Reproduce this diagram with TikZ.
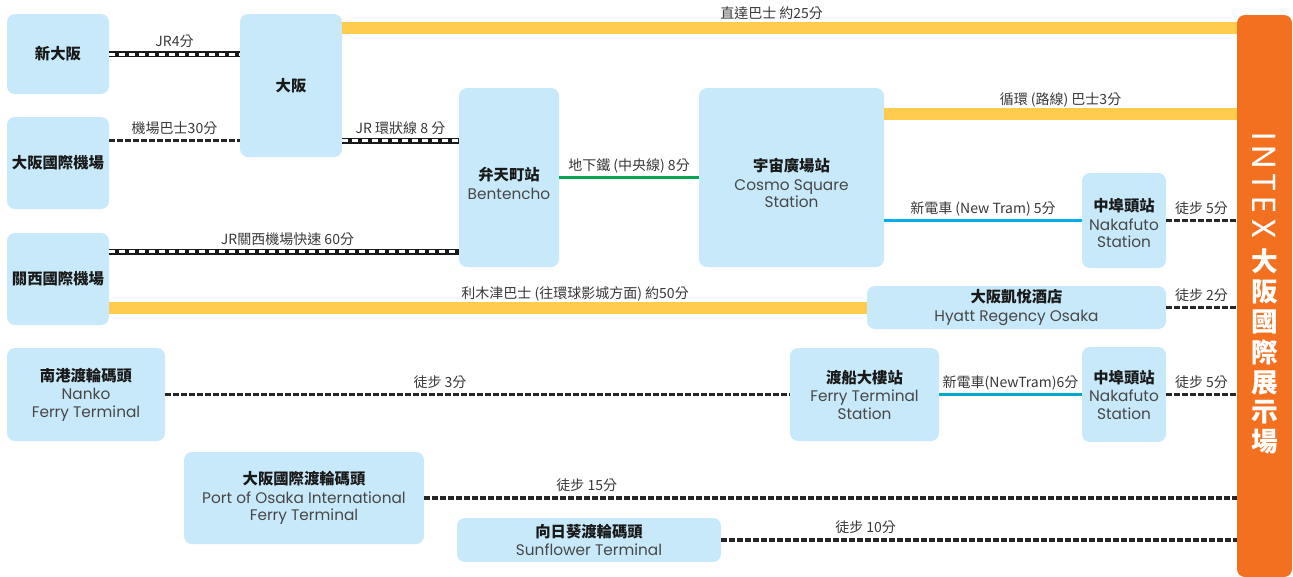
\documentclass[tikz,border=0pt]{standalone}
\usepackage{fontspec}
\setmainfont{Noto Sans CJK TC}
\newfontfamily\engfont{Poppins}
\usepackage{graphicx}
\usepackage{tikz}
\usepackage{color}

\definecolor{boxblue}{RGB}{200,233,249}
\definecolor{busyellow}{RGB}{255,203,79}
\definecolor{intexorange}{RGB}{243,112,33}
\definecolor{metrogreen}{RGB}{0,166,81}
\definecolor{tramblue}{RGB}{0,174,239}
\definecolor{tramteal}{RGB}{0,168,204}

\newcommand{\ttl}{\rmfamily\bfseries\fontsize{11.5}{13}\selectfont\color{black!90}}

\begin{document}
\begin{tikzpicture}[x=0.75pt, y=-0.75pt,
    box/.style={rectangle, rounded corners=6pt, fill=boxblue, inner sep=0pt, align=center, text=black!72, font=\engfont\fontsize{11.5}{13}\selectfont},
    lbl/.style={anchor=base, inner sep=0pt, font=\fontsize{10.5}{12}\selectfont, text=black!78, yshift=5.5pt},
    buslbl/.style={lbl, yshift=1.25pt},
    rail/.style={line width=4.5pt, draw=black!90, postaction={draw=white, line width=2.25pt, dash pattern=on 4.5pt off 3pt}},
    dashline/.style={line width=2.6pt, draw=black!85, dash pattern=on 4.5pt off 1.5pt},
    bus/.style={line width=9pt, draw=busyellow},
    metro/.style={line width=2.6pt, draw=metrogreen}]

    \useasboundingbox (0,0) rectangle (1293,576);

    %\node[box](s0) at (58,54) {};
    \node[box, minimum width=76.5pt, minimum height=60pt](s1) at (58,54) {\ttl 新大阪};
    \node[box, minimum width=76.5pt, minimum height=69pt](s2) at (58,163) {\ttl 大阪國際機場};
    \node[box, minimum width=76.5pt, minimum height=69pt](s3) at (58,279) {\ttl 關西國際機場};
    \node[box, minimum width=76.5pt, minimum height=107.25pt](s4) at (291,85.5) {\ttl 大阪};
    \node[box, minimum width=75pt, minimum height=134.25pt](s5) at (509,177.5) {{\ttl\rule{0pt}{19pt}弁天町站}\\[1pt]Bentencho};
    \node[box, minimum width=138.75pt, minimum height=134.25pt](s6) at (791.5,177.5) {{\ttl\rule{0pt}{18pt}宇宙廣場站}\\[1pt]Cosmo Square\\Station};
    \node[box, minimum width=63pt, minimum height=71.25pt](s7) at (1124,220.5) {{\ttl\rule{0pt}{14pt}中埠頭站}\\[1pt]Nakafuto\\Station};
    \node[box, minimum width=224.25pt, minimum height=32.25pt](s8) at (1016.5,307.5) {{\ttl 大阪凱悅酒店}\\[1pt]Hyatt Regency Osaka};
    \node[box, minimum width=118.5pt, minimum height=69.75pt](s9) at (86,394.5) {{\ttl 南港渡輪碼頭}\\[1pt]Nanko\\Ferry Terminal};
    \node[box, minimum width=111.75pt, minimum height=69.75pt](s10) at (864.5,394.5) {{\ttl 渡船大樓站}\\[1pt]Ferry Terminal\\Station};
    \node[box, minimum width=63pt, minimum height=71.25pt](s11) at (1124,394.5) {{\ttl 中埠頭站}\\[1pt]Nakafuto\\Station};
    \node[box, minimum width=180pt, minimum height=69pt](s12) at (304,498) {{\ttl 大阪國際渡輪碼頭}\\[1pt]Port of Osaka International\\Ferry Terminal};
    \node[box, minimum width=198pt, minimum height=33pt](s13) at (589,540) {{\ttl 向日葵渡輪碼頭}\\[1pt]Sunflower Terminal};
    \node[box, fill=intexorange, text=white, minimum width=41.25pt, minimum height=421.5pt](s14) at (1264.5,296)
        {\fontsize{25}{20.25}\selectfont\addfontfeature{LetterSpace=15}\rotatebox{-90}{INTEX}\\[6pt]\rmfamily\bfseries\fontsize{20}{20.25}\selectfont
         \begin{tabular}{@{}c@{}}大\\阪\\國\\際\\展\\示\\場\end{tabular}};

    \coordinate (c1) at ([yshift=-10.5pt]s4.north east);
    \coordinate (c2) at ([yshift=-18pt]s2.north east);
    \coordinate (c3) at ([yshift=-14.25pt]s3.north east);
    \coordinate (c4) at ([yshift=-19.5pt]s6.north east);

            \draw[bus] (c1) -- (c1 -| s14.west) node[buslbl, pos=0.48] {直達巴士 約25分};
            \draw[rail] (s1.east) -- (s1.east -| s4.west) node[lbl, midway] {JR4分};
            \draw[dashline] (c2) -- (c2 -| s4.west) node[lbl, midway] {機場巴士30分};
            \draw[rail] (c2 -| s4.east) -- (c2 -| s5.west) node[lbl, midway] {JR 環狀線 8 分};
            \draw[rail] (c3) -- (c3 -| s5.west) node[lbl, pos=0.51] {JR關西機場快速 60分};
            \draw[bus] (s8.west -| s3.east) -- (s8.west) node[buslbl, pos=0.615] {利木津巴士 (往環球影城方面) 約50分};
            \draw[metro] (s5.east) -- (s6.west) node[lbl, midway] {地下鐵 (中央線) 8分};
            \draw[bus] (c4) -- (c4 -| s14.west) node[buslbl, midway] {循環 (路線) 巴士3分};
            \draw[metro, draw=tramblue] (s7.west -| s6.east) -- (s7.west) node[lbl, midway] {新電車 (New Tram) 5分};
            \draw[dashline] (s7.east) -- (s7.east -| s14.west) node[lbl, midway] {徒步 5分};
            \draw[dashline] (s8.east) -- (s8.east -| s14.west) node[lbl, midway] {徒步 2分};
            \draw[dashline] (s9.east) -- (s10.west) node[lbl, pos=0.44] {徒步 3分};
            \draw[metro, draw=tramteal] (s10.east) -- (s11.west) node[lbl, midway] {新電車(NewTram)6分};
            \draw[dashline] (s11.east) -- (s11.east -| s14.west) node[lbl, midway] {徒步 5分};
            \draw[dashline] (s12.east) -- (s12.east -| s14.west) node[lbl, pos=0.2] {徒步 15分};
            \draw[dashline] (s13.east) -- (s13.east -| s14.west) node[lbl, pos=0.28] {徒步 10分};

\end{tikzpicture}
\end{document}
